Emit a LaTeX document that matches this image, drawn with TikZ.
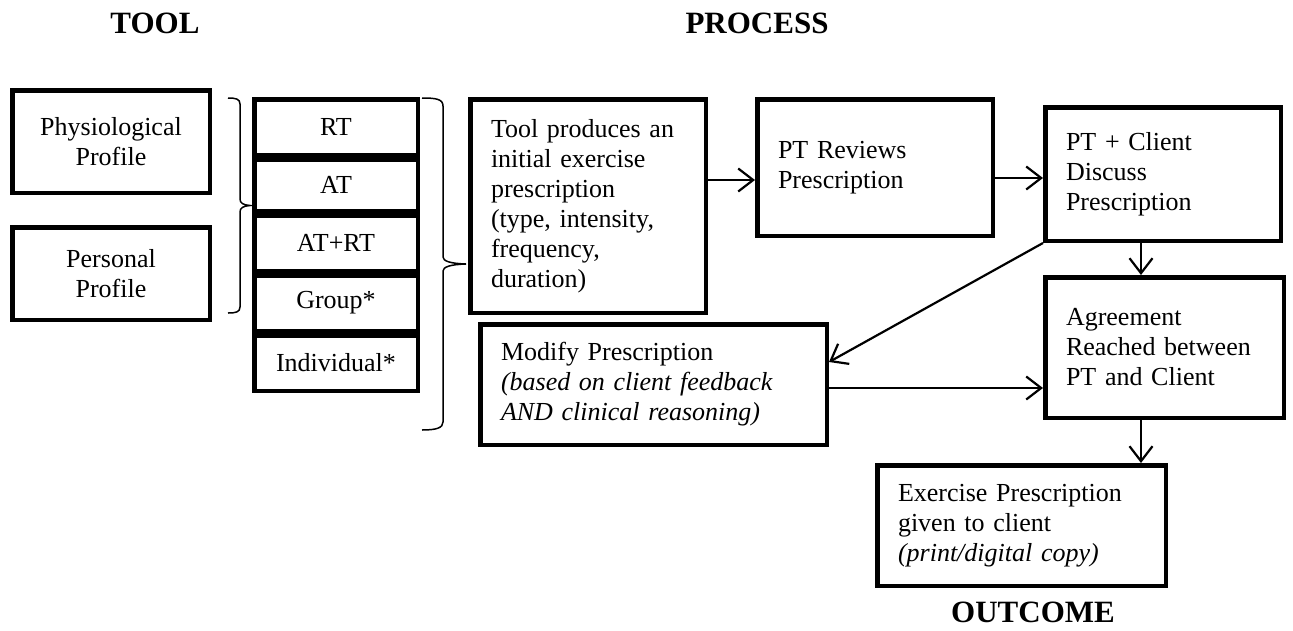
\documentclass[tikz,border=0pt]{standalone}
\usepackage{fontspec}
\setmainfont{Liberation Serif}
\usetikzlibrary{arrows.meta}

\begin{document}
\begin{tikzpicture}[x=1pt,y=-1pt,
  every node/.style={font=\fontsize{26}{30}\selectfont},
  cbox/.style={draw, line width=4.5pt, inner sep=0pt, align=center},
  lbox/.style={draw, line width=4.5pt, inner xsep=20.75pt, inner ysep=0pt, align=left},
  head/.style={font=\bfseries\fontsize{31}{36}\selectfont, anchor=base, inner sep=0pt},
  arr/.style={line width=2.2pt, -{Straight Barb[length=15pt,width=23pt]}},
  brace/.style={line width=1.5pt}
]
\useasboundingbox (0,0) rectangle (1293,630);

% section headings
\node[head] (ltool) at (155,33) {TOOL};
\node[head] (lprocess) at (757,33) {PROCESS};
\node[head] (loutcome) at (1033,622) {OUTCOME};

% inputs of the tool
\node[cbox, minimum width=197.5pt, minimum height=102.5pt] (phys) at (111,141.5) {Physiological\\Profile};
\node[cbox, minimum width=197.5pt, minimum height=92.5pt] (pers) at (111,273.5) {Personal\\Profile};

% exercise types
\node[cbox, minimum width=163.5pt, minimum height=55.5pt] (rt) at (336,127) {RT};
\node[cbox, minimum width=163.5pt, minimum height=51.5pt] (at) at (336,185) {AT};
\node[cbox, minimum width=163.5pt, minimum height=55.5pt] (atrt) at (336,243) {AT+RT};
\node[cbox, minimum width=163.5pt, minimum height=55.5pt] (group) at (336,303) {Group*};
\node[cbox, minimum width=163.5pt, minimum height=55.5pt] (indiv) at (336,363) {Individual*};

% braces
\draw[brace] (228,98) .. controls (236,98) and (240,99) .. (240,104) -- (240,199)
  .. controls (240,203) and (243,205) .. (250,205.5)
  .. controls (243,206) and (240,208) .. (240,212) -- (240,307)
  .. controls (240,312) and (236,313) .. (228,313);
\draw[brace] (422,98) .. controls (436,98) and (443,99) .. (443,106) -- (443,257)
  .. controls (443,261) and (450,263.5) .. (466,264)
  .. controls (450,264.5) and (443,267) .. (443,271) -- (443,422)
  .. controls (443,428) and (436,430) .. (422,430);

% process steps
\node[lbox, text width=194pt, minimum height=213.5pt] (tool) at (588,206)
  {Tool produces an\\initial exercise\\prescription\\(type, intensity,\\frequency,\\duration)};
\node[lbox, text width=194pt, minimum height=136.5pt] (review) at (875,167.5)
  {PT Reviews\\Prescription};
\node[lbox, text width=194pt, minimum height=133.5pt] (discuss) at (1163,174)
  {PT + Client\\Discuss\\Prescription};
\node[lbox, text width=197pt, minimum height=140.5pt] (agree) at (1164.5,347.5)
  {Agreement\\Reached between\\PT and Client};
\node[lbox, text width=305pt, minimum height=120.5pt] (modify) at (653.5,384.5)
  {Modify Prescription\\\textit{(based on client feedback}\\\textit{AND clinical reasoning)}};
\node[lbox, text width=247pt, minimum height=120.5pt] (exer) at (1021.5,525.5)
  {Exercise Prescription\\given to client\\\textit{(print/digital copy)}};

% connectors
\coordinate (c1) at ([yshift=26pt]tool.east);
\draw[arr] (c1) -- (c1 -| review.west);
\coordinate (c2) at ([yshift=-10.5pt]review.east);
\draw[arr] (c2) -- (c2 -| discuss.west);
\coordinate (c3) at ([xshift=-22pt]discuss.south);
\draw[arr] (c3) -- (c3 |- agree.north);
\draw[arr] (discuss.south west) -- ([yshift=22.5pt]modify.east);
\coordinate (c4) at ([yshift=-3.5pt]modify.east);
\draw[arr] (c4) -- (c4 -| agree.west);
\coordinate (c5) at ([xshift=-23.5pt]agree.south);
\draw[arr] (c5) -- (c5 |- exer.north);
\end{tikzpicture}
\end{document}
